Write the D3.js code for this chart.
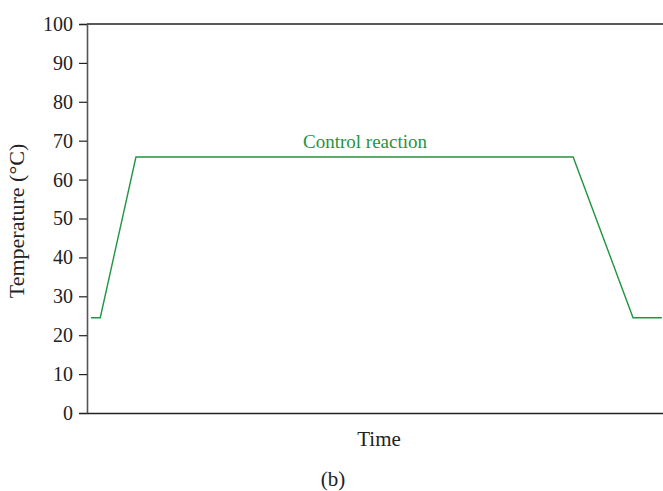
<!DOCTYPE html>
<html><head><meta charset="utf-8">
<script src="https://cdn.jsdelivr.net/npm/d3@7"></script>
<style>body{margin:0;background:#fff}svg{display:block}text{font-family:"Liberation Serif","DejaVu Serif",serif}</style>
</head><body><svg id="c" width="663" height="491"></svg>
<script>
const timePoints = [0.7, 2.3, 8.5, 84.4, 94.8, 99.8];
const temperatures = [24.5, 24.5, 65.8, 65.8, 24.5, 24.5];
const yTicks = [0,10,20,30,40,50,60,70,80,90,100];
const seriesLabel = "Control reaction";

const svg = d3.select("#c");
const x = d3.scaleLinear().domain([0,100]).range([87,663]);
const y = d3.scaleLinear().domain([0,100]).range([413,24]);
const green = "#1f9540";

svg.append("line").attr("x1",87).attr("x2",663).attr("y1",y(100)).attr("y2",y(100)).attr("stroke","#222").attr("stroke-width",1.3);

const ya = svg.append("g").attr("transform","translate(87,0)")
  .call(d3.axisLeft(y).tickValues(yTicks).tickSize(8).tickPadding(6));
ya.select(".domain").attr("stroke","#555").attr("stroke-width",1.6);
ya.selectAll(".tick line").attr("stroke","#222").attr("stroke-width",1.2);
ya.selectAll(".tick text").style("font-size","20px").attr("fill","#222").style("font-family","'Liberation Serif',serif");

const xa = svg.append("g").attr("transform","translate(0,413)")
  .call(d3.axisBottom(x).tickValues([]).tickSizeOuter(0));
xa.select(".domain").attr("stroke","#222").attr("stroke-width",1.6);

svg.append("path").datum(timePoints.map((t,i)=>[t,temperatures[i]]))
  .attr("d", d3.line().x(d=>x(d[0])).y(d=>y(d[1])))
  .attr("fill","none").attr("stroke",green).attr("stroke-width",1.4);

svg.append("text").attr("x",365).attr("y",y(65.8)-9).attr("text-anchor","middle")
  .style("font-size","19px").attr("fill",green).text(seriesLabel);

svg.append("text").attr("transform","translate(24,"+221+") rotate(-90)").attr("text-anchor","middle")
  .style("font-size","22px").attr("fill","#222").text("Temperature (°C)");
svg.append("text").attr("x",379).attr("y",446).attr("text-anchor","middle")
  .style("font-size","21px").attr("fill","#222").text("Time");
svg.append("text").attr("x",333).attr("y",486).attr("text-anchor","middle")
  .style("font-size","21px").attr("fill","#222").text("(b)");
</script></body></html>
